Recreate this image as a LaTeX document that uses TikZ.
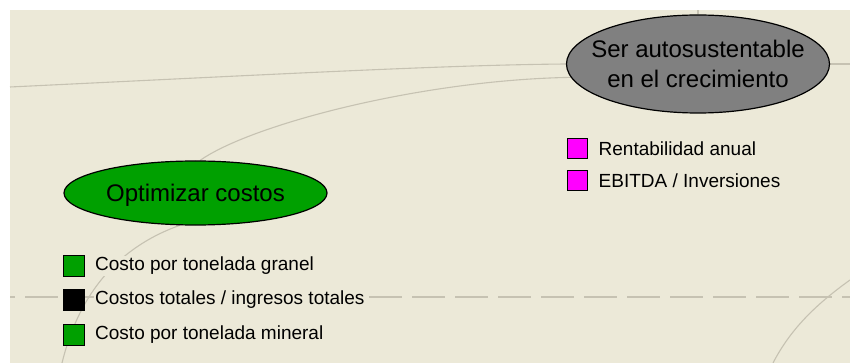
\documentclass[tikz,border=0pt]{standalone}
\usepackage{fontspec}
\setmainfont{Liberation Sans}
\usepackage{xcolor}
\usepackage{tikz}
\usetikzlibrary{shapes,positioning}

\definecolor{bgbeige}{RGB}{236,233,216}
\definecolor{linkgray}{RGB}{198,194,178}
\definecolor{objgreen}{RGB}{0,160,0}
\definecolor{objgray}{RGB}{128,128,128}
\definecolor{indmagenta}{RGB}{255,0,255}

\pgfdeclarelayer{background}
\pgfsetlayers{background,main}

\tikzset{
    objective/.style={ellipse, draw=black, line width=1.2pt, inner sep=0pt, font=\fontsize{24}{30}\selectfont},
    link/.style={draw=linkgray, line width=1.1pt},
    indbox/.style={draw=black, line width=1pt, minimum size=21pt, inner sep=0pt},
    indlabel/.style={fill=bgbeige, inner sep=1pt, font=\fontsize{19}{22}\selectfont}
}

\begin{document}
\begin{tikzpicture}[x=1pt, y=-1pt]
    \useasboundingbox (0,0) rectangle (850,363);

    % Objectives
    \node[objective, fill=objgray, minimum width=263pt, minimum height=98pt, inner xsep=-14pt, align=center] (grow) at (698,64) {Ser autosustentable\\en el crecimiento};
    \node[objective, fill=objgreen, minimum width=263pt, minimum height=64pt, text depth=0pt] (cost) at (195.5,193) {Optimizar costos};

    % Indicators
    \node[indbox, fill=indmagenta, minimum size=20pt] (rent) at (577,149) {};
    \node[indlabel, right=10pt of rent] (rentT) {Rentabilidad anual};
    \node[indbox, fill=indmagenta, minimum size=20pt] (ebitda) at (577,181) {};
    \node[indlabel, right=10pt of ebitda] (ebitdaT) {EBITDA / Inversiones};

    \node[indbox, fill=objgreen] (granel) at (74,266) {};
    \node[indlabel, right=9pt of granel] (granelT) {Costo por tonelada granel};
    \node[indbox, fill=black] (ratio) at (74,300) {};
    \node[indlabel, right=9pt of ratio] (ratioT) {Costos totales / ingresos totales};
    \node[indbox, fill=objgreen] (mineral) at (74,335) {};
    \node[indlabel, right=9pt of mineral] (mineralT) {Costo por tonelada mineral};

    % Free ends at the border
    \coordinate (leftA) at (10,87);
    \coordinate (rightA) at (850,64);
    \coordinate (topA) at (698,10);
    \coordinate (downC) at (62,363);
    \coordinate (inD) at (850,280);
    \coordinate (outD) at (773,363);
    \coordinate (dashL) at (10,297);
    \coordinate (dashR) at (850,297);

    % Links
    \begin{pgfonlayer}{background}
        \fill[white] (0,0) rectangle (850,363);
        \fill[bgbeige] (10,10) rectangle (850,363);
        \draw[link] (leftA) .. controls (300,73) and (450,65) .. (grow.west);
        \draw[link] (grow.east) -- (rightA);
        \draw[link] (grow.north) -- (topA);
        \draw[link] (cost.82) .. controls (250,125) and (420,80) .. (grow.186);
        \draw[link] (cost.244) .. controls (105,252) and (75,310) .. (downC);
        \draw[link] (inD) .. controls (815,305) and (790,330) .. (outD);
        \draw[link, dash pattern=on 33pt off 10pt, dash phase=28pt] (dashL) -- (dashR);
    \end{pgfonlayer}
\end{tikzpicture}
\end{document}
